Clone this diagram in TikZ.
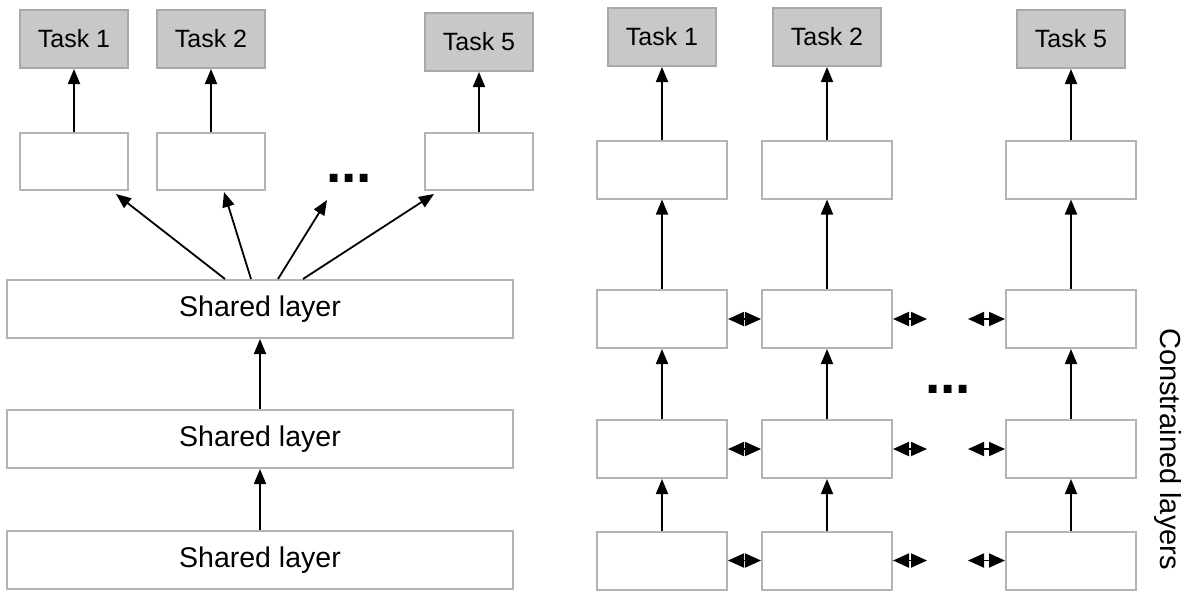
\documentclass[tikz,border=0pt]{standalone}
\usepackage{fontspec}
\setmainfont{Liberation Sans}
\usetikzlibrary{arrows.meta,calc}
\definecolor{taskfill}{RGB}{200,200,200}
\definecolor{taskline}{RGB}{168,168,168}
\definecolor{boxline}{RGB}{180,180,180}

\begin{document}
\begin{tikzpicture}[x=1pt,y=-1pt,
  task/.style={draw=taskline, fill=taskfill, line width=2pt,
    minimum width=108pt, minimum height=58pt, inner sep=0pt,
    font=\fontsize{25}{25}\selectfont},
  head/.style={draw=boxline, fill=white, line width=2pt,
    minimum width=108pt, minimum height=57pt, inner sep=0pt},
  shared/.style={draw=boxline, fill=white, line width=2pt,
    minimum width=506pt, minimum height=58pt, inner sep=0pt,
    font=\fontsize{28.5}{28.5}\selectfont},
  cell/.style={draw=boxline, fill=white, line width=2pt,
    minimum width=130pt, minimum height=58pt, inner sep=0pt},
  up/.style={-{Triangle[length=15pt,width=12pt]}, line width=1.8pt},
  both/.style={{Triangle[length=16pt,width=14pt]}-{Triangle[length=16pt,width=14pt]}, line width=1.8pt},
  dots/.style={anchor=base, inner sep=0pt, font=\fontsize{55}{55}\bfseries},
]
\useasboundingbox (0,0) rectangle (1190,590);

% ---------- hard parameter sharing ----------
\node[task] (lt1) at (74,39) {Task 1};
\node[task] (lt2) at (211,39) {Task 2};
\node[task] (lt5) at (479,42) {Task 5};

\node[head] (lb1) at (74,161.5) {};
\node[head] (lb2) at (211,161.5) {};
\node[head] (lb5) at (479,161.5) {};

\node[dots] (ld) at (349,182) {...};

\node[shared] (s1) at (260,309) {Shared layer};
\node[shared] (s2) at (260,439) {Shared layer};
\node[shared] (s3) at (260,560) {Shared layer};

\foreach \i in {1,2,5} {
  \draw[up] (lb\i.north) -- (lt\i.south);
}
\draw[up] (s3.north) -- (s2.south);
\draw[up] (s2.north) -- (s1.south);

\coordinate (ldtip) at (327,200);
\draw[up] ($(s1.north)+(-35,0)$) -- ($(lb1.south east)+(-13,3)$);
\draw[up] ($(s1.north)+(-9,0)$) -- ($(lb2.south)+(13,1)$);
\draw[up] ($(s1.north)+(18,0)$) -- (ldtip);
\draw[up] ($(s1.north)+(43,0)$) -- ($(lb5.south west)+(10,3)$);

% ---------- soft parameter sharing ----------
\node[task] (rt1) at (662,37) {Task 1};
\node[task] (rt2) at (827,37) {Task 2};
\node[task] (rt5) at (1071,39) {Task 5};

\foreach \c/\x in {1/662,2/827,5/1071} {
  \node[cell] (r1c\c) at (\x,169.5) {};
  \node[cell] (r2c\c) at (\x,319) {};
  \node[cell] (r3c\c) at (\x,449) {};
  \node[cell] (r4c\c) at (\x,560.5) {};
  \draw[up] (r1c\c.north) -- (rt\c.south);
  \draw[up] (r2c\c.north) -- (r1c\c.south);
  \draw[up] (r3c\c.north) -- (r2c\c.south);
  \draw[up] (r4c\c.north) -- (r3c\c.south);
}

\node[dots] (rd) at (948,393) {...};

\foreach \r in {2,3,4} {
  \coordinate (g\r a) at ($(r\r c2.east)+(34,0)$);
  \coordinate (g\r b) at ($(r\r c5.west)+(-37,0)$);
  \draw[both] (r\r c1.east) -- (r\r c2.west);
  \draw[both] (r\r c2.east) -- (g\r a);
  \draw[both] (g\r b) -- (r\r c5.west);
}

\node[rotate=-90, font=\fontsize{29}{29}\selectfont] (cl) at (1168,449) {Constrained layers};
\end{tikzpicture}
\end{document}
